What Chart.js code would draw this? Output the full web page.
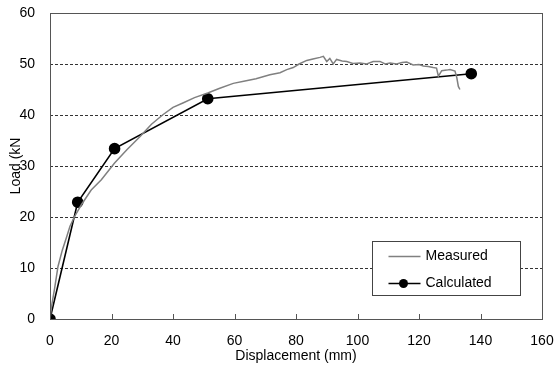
<!DOCTYPE html>
<html>
<head>
<meta charset="utf-8">
<script src="https://cdn.jsdelivr.net/npm/chart.js@4.4.0/dist/chart.umd.min.js"></script>
<style>
  html, body { margin: 0; padding: 0; background: #fff; }
  #wrap { width: 554px; height: 369px; }
</style>
</head>
<body>
<div id="wrap"><canvas id="loadChart"></canvas></div>
<script>
// measured load-displacement curve
const measuredX = [0, 0.5, 1.5, 2.6, 4, 5.3, 6.5, 8, 10.2, 13.4, 16.7, 21, 25, 29.3, 33, 36.8, 40, 43.4, 47, 51.3,
  55, 59.6, 63, 67, 71.5, 74.8, 77, 79.1, 81, 83.5, 85.5, 87.8, 88.9, 90, 91, 92.1, 93.2, 95, 96.5, 98.5,
  100.8, 103, 105.1, 107.3, 109, 110.6, 112.7, 114.5, 116, 118.1, 120, 121.4, 123, 124.6, 125.7, 126.3,
  127.4, 129, 130.1, 131.7, 132.3, 132.8, 133.3];
const measuredY = [0, 2.5, 6, 10.3, 13.5, 15.9, 18.2, 20.1, 22.4, 25.3, 27.3, 30.6, 33.2, 35.8, 38.2, 40.1, 41.5, 42.4, 43.4, 44.3,
  45.2, 46.2, 46.6, 47.1, 47.9, 48.3, 48.9, 49.3, 50.0, 50.7, 51.0, 51.3, 51.5, 50.5, 51.1, 50.0, 50.9, 50.6, 50.5, 50.1,
  50.2, 50.0, 50.5, 50.5, 50.0, 50.2, 50.0, 50.3, 50.4, 49.8, 49.9, 49.6, 49.5, 49.3, 49.2, 47.6,
  48.7, 48.8, 48.9, 48.6, 47.3, 45.6, 45.0];

// calculated points
const calcX = [0, 9, 21, 51.3, 137];
const calcY = [0, 22.9, 33.4, 43.2, 48.1];

const xTicks = [0, 20, 40, 60, 80, 100, 120, 140, 160];
const yTicks = [0, 10, 20, 30, 40, 50, 60];

const FONT = "'Liberation Sans', Arial, sans-serif";

const toPts = (xs, ys) => xs.map((x, i) => ({ x: x, y: ys[i] }));

// dashed grid, drawn under the lines
const dashGrid = {
  id: 'dashGrid',
  beforeDatasetsDraw(chart) {
    const { ctx, chartArea: a, scales } = chart;
    ctx.save();
    ctx.strokeStyle = '#333';
    ctx.lineWidth = 1;
    ctx.setLineDash([3, 2]);
    ctx.beginPath();
    yTicks.forEach(v => {
      if (v === 0 || v === 60) return;
      const py = Math.round(scales.y.getPixelForValue(v)) + 0.5;
      ctx.moveTo(a.left, py);
      ctx.lineTo(a.right, py);
    });
    ctx.stroke();
    ctx.restore();
  }
};

// frame around the plot + inward ticks on x axis
const frame = {
  id: 'frame',
  afterDatasetsDraw(chart) {
    const { ctx, chartArea: a, scales } = chart;
    ctx.save();
    ctx.strokeStyle = '#555';
    ctx.lineWidth = 1;
    ctx.strokeRect(a.left + 0.5, a.top + 0.5, a.right - a.left, a.bottom - a.top);
    ctx.beginPath();
    xTicks.forEach(v => {
      const px = Math.round(scales.x.getPixelForValue(v)) + 0.5;
      ctx.moveTo(px, a.bottom);
      ctx.lineTo(px, a.bottom - 5);
    });
    ctx.stroke();
    ctx.restore();
  }
};

// legend box inside the plot, lower right
const boxLegend = {
  id: 'boxLegend',
  afterDraw(chart) {
    const { ctx, chartArea: a } = chart;
    const w = a.right - a.left, h = a.bottom - a.top;
    const x0 = Math.round(a.left + w * 0.654) + 0.5;
    const y0 = Math.round(a.top + h * 0.744) + 0.5;
    const x1 = Math.round(a.left + w * 0.955) + 0.5;
    const y1 = Math.round(a.top + h * 0.922) + 0.5;
    ctx.save();
    ctx.fillStyle = '#fff';
    ctx.fillRect(x0, y0, x1 - x0, y1 - y0);
    ctx.strokeStyle = '#444';
    ctx.lineWidth = 1;
    ctx.strokeRect(x0, y0, x1 - x0, y1 - y0);

    const ly1 = y0 + 15, ly2 = y0 + 42;
    ctx.strokeStyle = '#808080';
    ctx.lineWidth = 1.5;
    ctx.beginPath(); ctx.moveTo(x0 + 16, ly1); ctx.lineTo(x0 + 48, ly1); ctx.stroke();
    ctx.strokeStyle = '#000';
    ctx.lineWidth = 1.5;
    ctx.beginPath(); ctx.moveTo(x0 + 16, ly2); ctx.lineTo(x0 + 48, ly2); ctx.stroke();
    ctx.fillStyle = '#000';
    ctx.beginPath(); ctx.arc(x0 + 31, ly2, 4.5, 0, Math.PI * 2); ctx.fill();

    ctx.font = '14px ' + FONT;
    ctx.textBaseline = 'middle';
    ctx.fillStyle = '#000';
    ctx.fillText('Measured', x0 + 53, ly1);
    ctx.fillText('Calculated', x0 + 53, ly2);
    ctx.restore();
  }
};

// fixed axis boxes, no extra label overflow padding
function fixBox(size, horiz) {
  return s => {
    if (horiz) s.height = size; else s.width = size;
    s.paddingTop = 0; s.paddingBottom = 0; s.paddingLeft = 0; s.paddingRight = 0;
  };
}

new Chart(document.getElementById('loadChart'), {
  type: 'scatter',
  data: {
    datasets: [
      {
        label: 'Measured',
        data: toPts(measuredX, measuredY),
        showLine: true,
        borderColor: '#808080',
        borderWidth: 1.5,
        pointRadius: 0,
        tension: 0
      },
      {
        label: 'Calculated',
        data: toPts(calcX, calcY),
        showLine: true,
        borderColor: '#000',
        backgroundColor: '#000',
        borderWidth: 1.6,
        pointRadius: 5,
        pointHoverRadius: 5,
        tension: 0
      }
    ]
  },
  options: {
    responsive: true,
    maintainAspectRatio: false,
    animation: false,
    layout: { padding: { top: 13, right: 12, left: 0, bottom: 0 } },
    plugins: {
      legend: { display: false },
      tooltip: { enabled: false }
    },
    scales: {
      x: {
        type: 'linear',
        min: 0, max: 160,
        afterFit: fixBox(50, true),
        afterBuildTicks(s) { s.ticks = xTicks.map(v => ({ value: v })); },
        grid: { display: false, drawTicks: false },
        border: { display: false },
        ticks: { padding: 14, color: '#000', font: { family: FONT, size: 14 } },
        title: {
          display: true,
          text: 'Displacement (mm)',
          color: '#000',
          font: { family: FONT, size: 14 },
          padding: { top: 0, bottom: 4 }
        }
      },
      y: {
        min: 0, max: 60,
        afterFit: fixBox(50, false),
        afterBuildTicks(s) { s.ticks = yTicks.map(v => ({ value: v })); },
        grid: { display: false, drawTicks: false },
        border: { display: false },
        ticks: { padding: 15, color: '#000', font: { family: FONT, size: 14 } },
        title: {
          display: true,
          text: 'Load (kN',
          color: '#000',
          font: { family: FONT, size: 14 },
          padding: { top: 8, bottom: 0 }
        }
      }
    }
  },
  plugins: [dashGrid, frame, boxLegend]
});
</script>
</body>
</html>
